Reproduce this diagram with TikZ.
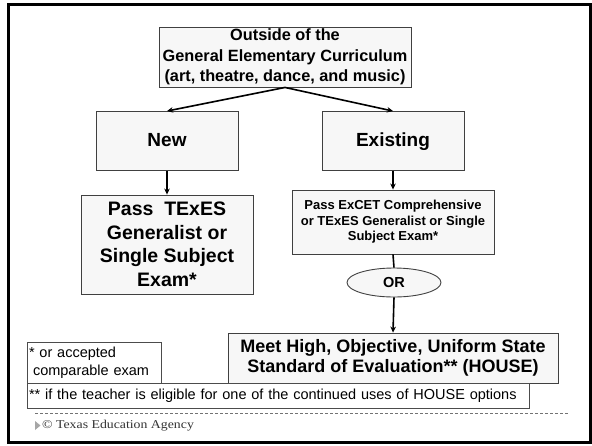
\documentclass[tikz,border=0pt]{standalone}
\usepackage{fontspec}
\setmainfont{Liberation Sans}
\newfontfamily\footserif{Liberation Serif}
\usetikzlibrary{shapes.geometric,arrows.meta}

\begin{document}
\begin{tikzpicture}[x=1pt,y=-1pt,
  box/.style={draw=black!75, fill=black!3, line width=0.9pt, inner sep=0pt, align=center},
  note/.style={draw=black!70, fill=white, line width=0.8pt, inner sep=0pt},
  link/.style={line width=1.6pt, -{Stealth[length=6pt,width=5.5pt]}},
  plain/.style={line width=1.6pt},
]
\useasboundingbox (0,0) rectangle (592,445);
\fill[white] (0,0) rectangle (592,445);
% slide frame
\draw[line width=3pt] (8.5,4.5) rectangle (590.5,442.5);

% flow boxes
\node[box, minimum width=252pt, minimum height=60pt,
      font=\bfseries\fontsize{16.3}{20.5}\selectfont] (top) at (285,57)
  {Outside of the\\General Elementary Curriculum\\(art, theatre, dance, and music)};

\node[box, minimum width=142pt, minimum height=59pt, text height=14pt, text depth=4pt,
      font=\bfseries\fontsize{19}{23}\selectfont] (new) at (167,141) {New};
\node[box, minimum width=142pt, minimum height=59pt, text height=14pt, text depth=4pt,
      font=\bfseries\fontsize{19}{23}\selectfont] (existing) at (393,141) {Existing};

\node[box, minimum width=172pt, minimum height=99pt,
      font=\bfseries\fontsize{19.5}{23.5}\selectfont] (pass) at (167,244.5)
  {Pass\ \ TExES\\Generalist or\\Single Subject\\Exam*};

\node[box, minimum width=202pt, minimum height=64pt,
      font=\bfseries\fontsize{13}{15.5}\selectfont] (excet) at (393,222)
  {Pass ExCET Comprehensive\\or TExES Generalist or Single\\Subject Exam*};

\node[box, ellipse, minimum width=94pt, minimum height=29pt,
      font=\bfseries\fontsize{14.5}{16}\selectfont] (or) at (394,282.5) {OR};

\node[box, minimum width=330pt, minimum height=50pt,
      font=\bfseries\fontsize{18}{20}\selectfont] (house) at (393,358)
  {Meet High, Objective, Uniform State\\Standard of Evaluation** (HOUSE)};

% footnotes
\node[note, minimum width=134pt, minimum height=41pt, text width=130pt,
      align=left, font=\fontsize{14.5}{18.5}\selectfont] (fnone) at (94,362.5)
  {* or accepted\\\hspace*{4pt}comparable exam};
\node[note, minimum width=502pt, minimum height=25pt, text width=498pt,
      align=left, font=\fontsize{14.5}{17}\selectfont] (fntwo) at (278,395.5)
  {** if the teacher is eligible for one of the continued uses of HOUSE options};

% connectors
\draw[link] (top.south) -- (new.north);
\draw[link] (top.south) -- (existing.north);
\draw[link] (new.south) -- (pass.north);
\draw[link] (existing.south) -- (excet.north);
\draw[plain] (excet.south) -- (or.north);
\draw[link] (or.south) -- (house.north);

% footer
\draw[black!55, line width=0.6pt, dash pattern=on 3pt off 2pt] (35,413) -- (568,413);
\fill[black!35] (35,421) -- (40.5,425.5) -- (35,430) -- cycle;
\node[anchor=west, inner sep=0pt, text=black!80] (credit) at (42,425.5)
  {\scalebox{1.15}[1]{\footserif\fontsize{12}{12}\selectfont \textcopyright\ Texas Education Agency}};
\end{tikzpicture}
\end{document}
